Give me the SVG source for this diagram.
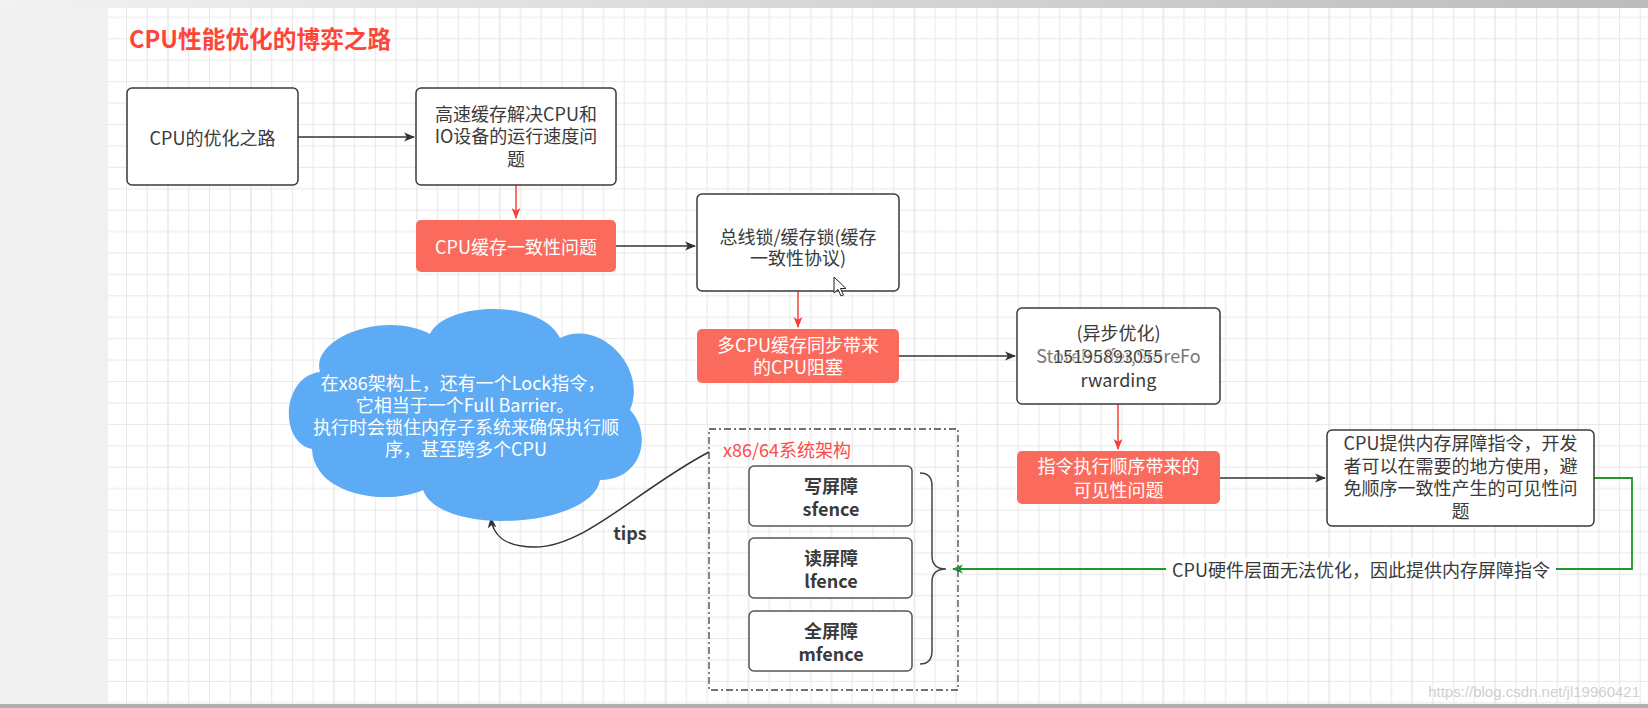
<svg xmlns="http://www.w3.org/2000/svg" width="1648" height="708" viewBox="0 0 1648 708">
<defs>
  <pattern id="grid" patternUnits="userSpaceOnUse" x="126" y="38.3" width="82.948" height="85.68">
    <path d="M0.5 0V85.68M21.237 0V85.68M62.711 0V85.68M0 0.5H82.948M0 21.92H82.948M0 43.34H82.948M0 64.76H82.948" stroke="#e8e8e8" stroke-width="1" fill="none"/>
    <path d="M41.974 0V85.68" stroke="#dcdcdc" stroke-width="1" fill="none"/>
  </pattern>
  <linearGradient id="topbar" x1="0" x2="1" y1="0" y2="0">
    <stop offset="0" stop-color="#f2f2f2"/>
    <stop offset="1" stop-color="#bcbcbc"/>
  </linearGradient>
  <marker id="ab" viewBox="0 0 10 10" refX="9" refY="5" markerWidth="11" markerHeight="11" markerUnits="userSpaceOnUse" orient="auto">
    <path d="M0 1 L10 5 L0 9 L2.5 5 Z" fill="#333"/>
  </marker>
  <marker id="ar" viewBox="0 0 10 10" refX="9" refY="5" markerWidth="11" markerHeight="11" markerUnits="userSpaceOnUse" orient="auto">
    <path d="M0 1 L10 5 L0 9 L2.5 5 Z" fill="#f44336"/>
  </marker>
  <marker id="ag" viewBox="0 0 10 10" refX="9" refY="5" markerWidth="11" markerHeight="11" markerUnits="userSpaceOnUse" orient="auto">
    <path d="M0 1 L10 5 L0 9 L2.5 5 Z" fill="#1f9a2a"/>
  </marker>
</defs>
<style>
  .box{fill:#fff;stroke:#3a3a3a;stroke-width:1.5}
  .red{fill:#fb6b5d}
  .t{font-family:"Noto Sans CJK SC","Noto Sans",sans-serif;font-size:18px;fill:#3a3a3a;text-anchor:middle;dominant-baseline:central}
  .t tspan{dominant-baseline:central}
  .w{fill:#fff}
  .b{font-weight:bold}
  .ln{fill:none;stroke:#333;stroke-width:1.5}
  .rl{fill:none;stroke:#f44336;stroke-width:1.5}
  .gl{fill:none;stroke:#1f9a2a;stroke-width:1.8}
</style>

<!-- background -->
<rect x="0" y="0" width="1648" height="708" fill="#f0f0f0"/>
<rect x="108" y="8" width="1540" height="697" fill="#ffffff"/>
<rect x="108" y="8" width="1540" height="697" fill="url(#grid)"/>
<rect x="0" y="0" width="1648" height="8" fill="url(#topbar)"/>
<rect x="0" y="704" width="1648" height="4" fill="#b0b0b0"/>

<g id="title">
  <text class="t b" x="129" y="38" style="text-anchor:start;font-size:23.7px;fill:#ff4538">CPU性能优化的博弈之路</text>
</g>

<g id="connectors">
  <path class="ln" d="M298 137 H414" marker-end="url(#ab)"/>
  <path class="rl" d="M516 185 V218" marker-end="url(#ar)"/>
  <path class="ln" d="M616 246 H695" marker-end="url(#ab)"/>
  <path class="rl" d="M798 291 V327" marker-end="url(#ar)"/>
  <path class="ln" d="M899 356 H1015" marker-end="url(#ab)"/>
  <path class="rl" d="M1118 404 V449" marker-end="url(#ar)"/>
  <path class="ln" d="M1220 478 H1325" marker-end="url(#ab)"/>
  <path class="gl" d="M1594 478 H1632 V569 H953" marker-end="url(#ag)"/>
  <path class="ln" d="M709 452 C640 488 585 547 535 547 C505 547 493 536 491 518" marker-end="url(#ab)"/>
  <rect x="1166" y="558" width="390" height="22" fill="#fff"/>
  <text class="t" x="1361" y="569">CPU硬件层面无法优化，因此提供内存屏障指令</text>
  <text class="t b" x="630" y="532">tips</text>
</g>

<g id="n1">
  <rect class="box" x="127" y="88" width="171" height="97" rx="5"/>
  <text class="t" x="212.5" y="137">CPU的优化之路</text>
</g>
<g id="n2">
  <rect class="box" x="416" y="88" width="200" height="97" rx="5"/>
  <text class="t"><tspan x="516" y="112.5">高速缓存解决CPU和</tspan><tspan x="516" y="135">IO设备的运行速度问</tspan><tspan x="516" y="157.5">题</tspan></text>
</g>
<g id="r1">
  <rect class="red" x="416" y="220" width="200" height="52" rx="5"/>
  <text class="t w" x="516" y="246">CPU缓存一致性问题</text>
</g>
<g id="n3">
  <rect class="box" x="697" y="194" width="202" height="97" rx="5"/>
  <text class="t"><tspan x="798" y="235.5">总线锁/缓存锁(缓存</tspan><tspan x="798" y="257">一致性协议)</tspan></text>
</g>
<g id="cursor">
  <path d="M834 277 L834 293 L838 289.5 L841 296 L843.5 295 L840.5 288.5 L846 288.5 Z" fill="#fff" stroke="#222" stroke-width="1"/>
</g>
<g id="r2">
  <rect class="red" x="697" y="329" width="202" height="54" rx="5"/>
  <text class="t w"><tspan x="798" y="344">多CPU缓存同步带来</tspan><tspan x="798" y="366">的CPU阻塞</tspan></text>
</g>
<g id="n4">
  <rect class="box" x="1017" y="308" width="203" height="96" rx="5"/>
  <text class="t"><tspan x="1118.5" y="332">(异步优化)</tspan><tspan x="1118.5" y="355" style="fill:#777">StoreBuffer,StoreFo</tspan><tspan x="1118.5" y="379">rwarding</tspan></text>
  <text class="t" x="1108" y="355" style="fill:#444;stroke:#fff;stroke-width:2.5;paint-order:stroke;stroke-opacity:0.7">15195893055</text>
</g>
<g id="r3">
  <rect class="red" x="1017" y="451" width="203" height="53" rx="5"/>
  <text class="t w"><tspan x="1118.5" y="465">指令执行顺序带来的</tspan><tspan x="1118.5" y="489">可见性问题</tspan></text>
</g>
<g id="n5">
  <rect class="box" x="1327" y="430" width="267" height="96" rx="5"/>
  <text class="t"><tspan x="1460.5" y="442">CPU提供内存屏障指令，开发</tspan><tspan x="1460.5" y="464.5">者可以在需要的地方使用，避</tspan><tspan x="1460.5" y="487">免顺序一致性产生的可见性问</tspan><tspan x="1460.5" y="509.5">题</tspan></text>
</g>

<g id="cloud">
  <path d="M320 372 C310 338 385 310 430 334 C445 302 540 298 560 338 C600 318 648 368 630 410 C652 432 644 480 600 480 C592 528 440 537 423 490 C388 506 314 496 312 449 C278 442 282 376 320 372 Z" fill="#5daaf5"/>
  <text class="t w"><tspan x="463" y="381.5">在x86架构上，还有一个Lock指令，</tspan><tspan x="465" y="403.5">它相当于一个Full Barrier。</tspan><tspan x="466" y="425.5">执行时会锁住内存子系统来确保执行顺</tspan><tspan x="466" y="447.5">序，甚至跨多个CPU</tspan></text>
</g>

<g id="x86">
  <rect x="709" y="429" width="249" height="261" fill="none" stroke="#444" stroke-width="1.3" stroke-dasharray="7 3 2 3"/>
  <text class="t" x="723" y="449" style="text-anchor:start;fill:#ff4a4a">x86/64系统架构</text>
  <path d="M920 473 Q932 473 932 486 V556 Q932 569 946 569 Q932 569 932 582 V651 Q932 664 920 664" fill="none" stroke="#444" stroke-width="1.5"/>
</g>
<g id="sfence">
  <rect class="box" x="749" y="466" width="163" height="60" rx="5" style="stroke:#555"/>
  <text class="t b"><tspan x="831" y="484.5">写屏障</tspan><tspan x="831" y="507.5">sfence</tspan></text>
</g>
<g id="lfence">
  <rect class="box" x="749" y="538" width="163" height="60" rx="5" style="stroke:#555"/>
  <text class="t b"><tspan x="831" y="557">读屏障</tspan><tspan x="831" y="580">lfence</tspan></text>
</g>
<g id="mfence">
  <rect class="box" x="749" y="611" width="163" height="60" rx="5" style="stroke:#555"/>
  <text class="t b"><tspan x="831" y="629.5">全屏障</tspan><tspan x="831" y="652.5">mfence</tspan></text>
</g>

<text x="1640" y="691" style="font-family:'Liberation Sans',sans-serif;font-size:15px;fill:#cfcfcf;text-anchor:end;dominant-baseline:central">https://blog.csdn.net/jl19960421</text>
</svg>
